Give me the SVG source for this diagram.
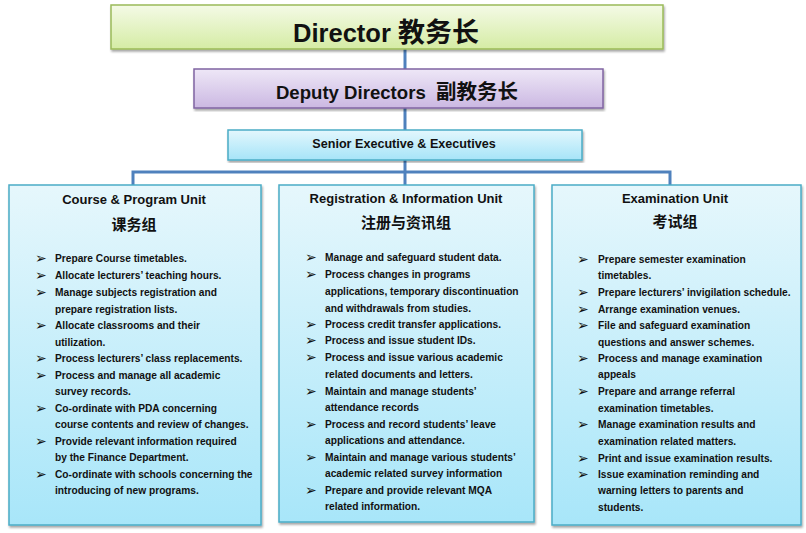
<svg xmlns="http://www.w3.org/2000/svg" width="806" height="533" viewBox="0 0 806 533">
<defs>
<linearGradient id="gGreen" x1="0" y1="0" x2="0" y2="1"><stop offset="0" stop-color="#f4fae6"/><stop offset="1" stop-color="#d5eca4"/></linearGradient>
<linearGradient id="gPurple" x1="0" y1="0" x2="0" y2="1"><stop offset="0" stop-color="#eee7f7"/><stop offset="1" stop-color="#cbb8e2"/></linearGradient>
<linearGradient id="gCyan" x1="0" y1="0" x2="0" y2="1"><stop offset="0" stop-color="#e3f7fd"/><stop offset="1" stop-color="#a6e4f8"/></linearGradient>
<linearGradient id="gUnit" x1="0" y1="0" x2="0" y2="1"><stop offset="0" stop-color="#e6f7fc"/><stop offset="1" stop-color="#a8e6f9"/></linearGradient>
<filter id="sh" x="-5%" y="-5%" width="110%" height="115%"><feDropShadow dx="1" dy="2" stdDeviation="1.2" flood-color="#000" flood-opacity="0.35"/></filter>
</defs>
<style>
.t{font-family:"Liberation Sans","Noto Sans CJK SC",sans-serif;font-weight:bold;fill:#111;}
.c{font-family:"Noto Sans CJK SC",sans-serif;font-weight:bold;fill:#111;}
.li{font-family:"Liberation Sans","Noto Sans CJK SC",sans-serif;font-weight:bold;font-size:10.2px;fill:#111;}
.b{font-family:"DejaVu Sans",sans-serif;font-size:14px;fill:#111;}
.hd{font-family:"Liberation Sans",sans-serif;font-weight:bold;font-size:13px;fill:#111;text-anchor:middle;}
.mid{text-anchor:middle;}
.conn{fill:none;stroke:#4f81bd;stroke-width:3;}
</style>
<g id="connectors">
<path class="conn" d="M405 49 V69"/>
<path class="conn" d="M405 108 V130"/>
<path class="conn" d="M405 160 V186"/>
<path class="conn" d="M133 186 V172 H670 V186"/>
</g>
<g id="director">
<rect x="111" y="5" width="552" height="44" fill="url(#gGreen)" stroke="#9bbb59" stroke-width="1.5" filter="url(#sh)"/>
<text class="t mid" x="386" y="42" font-size="25.5">Director <tspan class="c" font-size="27">教务长</tspan></text>
</g>
<g id="deputy">
<rect x="194" y="69" width="409" height="39" fill="url(#gPurple)" stroke="#8064a2" stroke-width="1.5" filter="url(#sh)"/>
<text class="t mid" x="397" y="99" font-size="18.6" xml:space="preserve">Deputy Directors  <tspan class="c" font-size="20.5">副教务长</tspan></text>
</g>
<g id="senior">
<rect x="228" y="130" width="354" height="30" fill="url(#gCyan)" stroke="#4bacc6" stroke-width="1.5" filter="url(#sh)"/>
<text class="t mid" x="404" y="147.5" font-size="12.6">Senior Executive &amp; Executives</text>
</g>
<g id="course-unit">
<rect x="9" y="185" width="252" height="340" fill="url(#gUnit)" stroke="#4bacc6" stroke-width="1.5" filter="url(#sh)"/>
<text class="hd" x="134" y="203.5">Course &amp; Program  Unit</text>
<text class="c mid" x="134" y="229.5" font-size="15">课务组</text>
<g class="b">
<text x="35" y="263">➢</text><text x="35" y="280">➢</text><text x="35" y="297">➢</text><text x="35" y="330">➢</text><text x="35" y="363">➢</text><text x="35" y="380">➢</text><text x="35" y="413">➢</text><text x="35" y="446">➢</text><text x="35" y="479">➢</text>
</g>
<g class="li">
<text x="55" y="261.5">Prepare Course timetables.</text>
<text x="55" y="278.5">Allocate lecturers’ teaching hours.</text>
<text x="55" y="295.5">Manage subjects registration and</text>
<text x="55" y="312.5">prepare registration lists.</text>
<text x="55" y="328.5">Allocate classrooms and their</text>
<text x="55" y="345.5">utilization.</text>
<text x="55" y="361.5">Process lecturers’ class replacements.</text>
<text x="55" y="378.5">Process and manage all academic</text>
<text x="55" y="394.5">survey records.</text>
<text x="55" y="411.5">Co-ordinate with PDA concerning</text>
<text x="55" y="427.5">course contents and review of changes.</text>
<text x="55" y="444.5">Provide relevant information required</text>
<text x="55" y="460.5">by the Finance Department.</text>
<text x="55" y="477.5">Co-ordinate with schools concerning the</text>
<text x="55" y="493.5">introducing of new programs.</text>
</g>
</g>
<g id="registration-unit">
<rect x="279" y="185" width="255" height="337" fill="url(#gUnit)" stroke="#4bacc6" stroke-width="1.5" filter="url(#sh)"/>
<text class="hd" x="406" y="202.5">Registration &amp; Information Unit</text>
<text class="c mid" x="406" y="228" font-size="15">注册与资讯组</text>
<g class="b">
<text x="305" y="262">➢</text><text x="305" y="279">➢</text><text x="305" y="329">➢</text><text x="305" y="345">➢</text><text x="305" y="362">➢</text><text x="305" y="396">➢</text><text x="305" y="429">➢</text><text x="305" y="462">➢</text><text x="305" y="495">➢</text>
</g>
<g class="li">
<text x="325" y="260.5">Manage and safeguard student data.</text>
<text x="325" y="277.5">Process changes in programs</text>
<text x="325" y="294.5">applications, temporary discontinuation</text>
<text x="325" y="311.5">and withdrawals from studies.</text>
<text x="325" y="327.5">Process credit transfer applications.</text>
<text x="325" y="343.5">Process and issue student IDs.</text>
<text x="325" y="360.5">Process and issue various academic</text>
<text x="325" y="377.5">related documents and letters.</text>
<text x="325" y="394.5">Maintain and manage students’</text>
<text x="325" y="410.5">attendance records</text>
<text x="325" y="427.5">Process and record students’ leave</text>
<text x="325" y="443.5">applications and attendance.</text>
<text x="325" y="460.5">Maintain and manage various students’</text>
<text x="325" y="476.5">academic related survey information</text>
<text x="325" y="493.5">Prepare and provide relevant MQA</text>
<text x="325" y="509.5">related information.</text>
</g>
</g>
<g id="examination-unit">
<rect x="552" y="185" width="249" height="340" fill="url(#gUnit)" stroke="#4bacc6" stroke-width="1.5" filter="url(#sh)"/>
<text class="hd" x="675" y="202.5">Examination Unit</text>
<text class="c mid" x="675" y="226.5" font-size="15">考试组</text>
<g class="b">
<text x="577" y="264">➢</text><text x="577" y="297">➢</text><text x="577" y="314">➢</text><text x="577" y="330">➢</text><text x="577" y="363">➢</text><text x="577" y="396">➢</text><text x="577" y="429">➢</text><text x="577" y="463">➢</text><text x="577" y="479">➢</text>
</g>
<g class="li">
<text x="598" y="262.5">Prepare semester examination</text>
<text x="598" y="278.5">timetables.</text>
<text x="598" y="295.5">Prepare lecturers’ invigilation schedule.</text>
<text x="598" y="312.5">Arrange examination venues.</text>
<text x="598" y="328.5">File and safeguard examination</text>
<text x="598" y="345.5">questions and answer schemes.</text>
<text x="598" y="361.5">Process and manage examination</text>
<text x="598" y="377.5">appeals</text>
<text x="598" y="394.5">Prepare and arrange referral</text>
<text x="598" y="411.5">examination timetables.</text>
<text x="598" y="427.5">Manage examination results and</text>
<text x="598" y="444.5">examination related matters.</text>
<text x="598" y="461.5">Print and issue examination results.</text>
<text x="598" y="477.5">Issue examination reminding and</text>
<text x="598" y="493.5">warning letters to parents and</text>
<text x="598" y="510.5">students.</text>
</g>
</g>
</svg>
